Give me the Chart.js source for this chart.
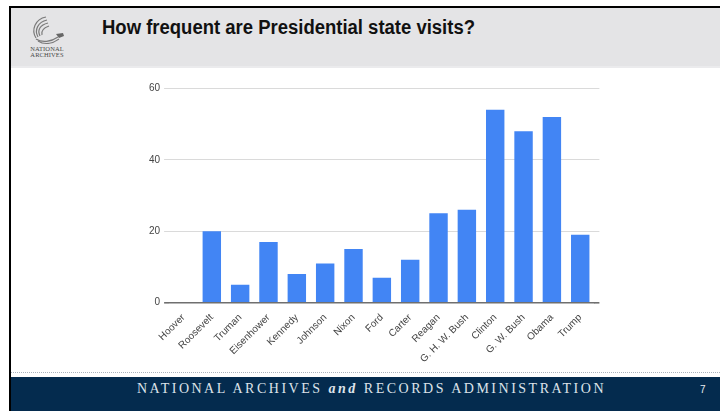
<!DOCTYPE html>
<html>
<head>
<meta charset="utf-8">
<script src="https://cdn.jsdelivr.net/npm/chart.js@4"></script>
<style>
html,body{margin:0;padding:0;width:720px;height:411px;overflow:hidden;background:#fff;font-family:"Liberation Sans",Arial,sans-serif;}
#topline{position:absolute;left:9px;top:6px;width:711px;height:2px;background:#000;}
#leftline{position:absolute;left:9px;top:6px;width:2px;height:405px;background:#000;}
#header{position:absolute;left:11px;top:8px;width:709px;height:58px;background:#e4e4e6;border-bottom:2px solid #ebebed;}
#title{position:absolute;left:102px;top:18px;font-family:"Liberation Sans Narrow","Liberation Sans",Arial,sans-serif;font-weight:bold;font-size:19.5px;line-height:19px;color:#111;white-space:nowrap;transform-origin:0 0;}
#logo{position:absolute;left:29px;top:14px;width:38px;height:32px;}
.lt{position:absolute;left:22px;width:50px;text-align:center;font-family:"Liberation Serif","DejaVu Serif",serif;font-size:6.5px;line-height:6px;color:#4a4a4a;letter-spacing:0.1px;}
#dots{position:absolute;left:11px;top:372px;width:709px;height:0;border-top:1px dotted #aab3bd;}
#footer{position:absolute;left:11px;top:377px;width:709px;height:34px;background:#042b4e;}
#ftext{position:absolute;left:137px;top:382px;font-family:"Liberation Serif","DejaVu Serif",serif;font-size:14px;line-height:13px;color:#dde3ea;white-space:nowrap;}
#ftext i{font-weight:bold;}
#pnum{position:absolute;left:700px;top:384px;font-size:10px;line-height:12px;color:#e8ecf0;}
#chartbox{position:absolute;left:100px;top:70px;width:540px;height:300px;}
</style>
</head>
<body>
<div id="topline"></div>
<div id="header"></div>
<div id="leftline"></div>
<div id="title">How frequent are Presidential state visits?</div>
<svg id="logo" viewBox="0 0 38 32">
  <g fill="none" stroke="#7a7a7a" stroke-width="1.2">
    <path d="M7 24 C2 16 6 5 17 3"/>
    <path d="M9 23 C5 16 9 8 18 6"/>
    <path d="M11 22 C8 16 11 11 19 9"/>
    <path d="M13 21 C12 17 14 14 20 12"/>
    <path d="M7 25 C13 29 22 28 29 23"/>
    <path d="M9 27 C15 31 23 30 30 25"/>
  </g>
  <path d="M27 20 L34 19 L35 22 L30 24 Z" fill="#666"/>
</svg>
<div class="lt" style="top:46px;">NATIONAL</div>
<div class="lt" style="top:52px;">ARCHIVES</div>
<div id="dots"></div>
<div id="footer"></div>
<div id="ftext">NATIONAL ARCHIVES <i>and</i> RECORDS ADMINISTRATION</div>
<div id="pnum">7</div>
<div id="chartbox"><canvas id="c" width="540" height="300"></canvas></div>
<script>
const categories = ["Hoover","Roosevelt","Truman","Eisenhower","Kennedy","Johnson","Nixon","Ford","Carter","Reagan","G. H. W. Bush","Clinton","G. W. Bush","Obama","Trump"];
const visits = [0,20,5,17,8,11,15,7,12,25,26,54,48,52,19];
const yMin = 0, yMax = 60, yStep = 20;

// fit header texts
(function(){
  const t = document.getElementById('title');
  const w = t.getBoundingClientRect().width;
  t.style.transform = 'scaleX(' + (373 / w) + ')';
  const f = document.getElementById('ftext');
  f.style.letterSpacing = '0px';
  const fw = f.getBoundingClientRect().width;
  const n = f.textContent.length;
  f.style.letterSpacing = ((469 - fw) / n) + 'px';
})();

const gridColor = c => (c.tick && c.tick.value === 0) ? '#6f6f6f' : '#dadada';
const gridWidth = c => (c.tick && c.tick.value === 0) ? 1.6 : 1;

new Chart(document.getElementById('c'), {
  type: 'bar',
  data: {
    labels: categories,
    datasets: [{
      data: visits,
      backgroundColor: '#4285f4',
      borderWidth: 0,
      categoryPercentage: 1.0,
      barPercentage: 0.65
    }]
  },
  options: {
    responsive: false,
    animation: false,
    devicePixelRatio: 1,
    layout: { padding: { top: 18.3, left: 0, right: 0, bottom: 0 } },
    plugins: { legend: { display: false }, tooltip: { enabled: false } },
    scales: {
      x: {
        offset: true,
        grid: { display: false },
        border: { display: false },
        ticks: {
          autoSkip: false, maxRotation: 45, minRotation: 45, padding: 1,
          color: '#444', font: { family: '"Liberation Sans", Arial, sans-serif', size: 10 }
        },
        afterFit: s => { s.height = 67.3; }
      },
      y: {
        min: yMin, max: yMax,
        border: { display: false },
        grid: { color: gridColor, lineWidth: gridWidth, drawTicks: true, tickLength: 5.2 },
        ticks: { stepSize: yStep, padding: 4, color: '#444', font: { family: '"Liberation Sans", Arial, sans-serif', size: 10 } },
        afterFit: s => { s.width = 69.3; }
      },
      y2: {
        position: 'right',
        min: yMin, max: yMax,
        border: { display: false },
        grid: { color: gridColor, lineWidth: gridWidth, drawOnChartArea: false, drawTicks: true, tickLength: 5 },
        ticks: { stepSize: yStep, padding: 0, callback: () => '' },
        afterFit: s => { s.width = 45.6; }
      }
    }
  }
});
</script>
</body>
</html>
